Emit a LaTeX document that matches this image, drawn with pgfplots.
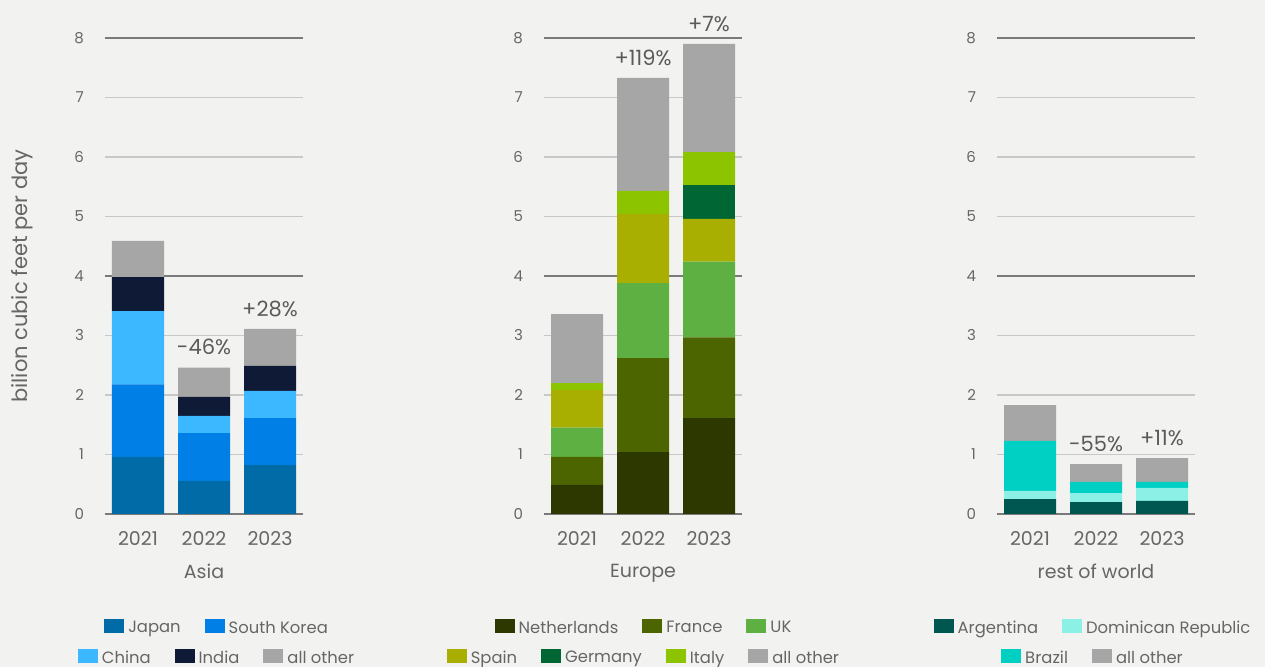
\documentclass[border=0pt]{standalone}
\usepackage{fontspec}
\setmainfont{Poppins}
\usepackage{pgfplots}
\pgfplotsset{compat=1.18}
\definecolor{bg}{HTML}{F2F3F0}
\definecolor{txt}{HTML}{666666}
\definecolor{ann}{HTML}{5A5A5A}
\definecolor{gridl}{HTML}{C8C8C8}
\definecolor{gridd}{HTML}{7A7A7A}
\definecolor{japan}{HTML}{006BA6}
\definecolor{skorea}{HTML}{0080E6}
\definecolor{china}{HTML}{3BB8FF}
\definecolor{india}{HTML}{0F1A36}
\definecolor{other}{HTML}{A6A6A6}
\definecolor{nl}{HTML}{2D3700}
\definecolor{fr}{HTML}{4D6500}
\definecolor{uk}{HTML}{5EB042}
\definecolor{es}{HTML}{A8AF00}
\definecolor{de}{HTML}{006633}
\definecolor{it}{HTML}{8DC400}
\definecolor{ar}{HTML}{005751}
\definecolor{dr}{HTML}{8CF0E6}
\definecolor{br}{HTML}{00CFC4}
\pgfplotsset{
  panel/.style={
    scale only axis, width=99pt, height=238pt,
    xmin=-0.5, xmax=2.5, ymin=0, ymax=8,
    ytick={0,1,...,8},
    xtick={0,1,2}, xticklabels={2021,2022,2023},
    /pgf/number format/assume math mode=true,
    axis x line*=bottom, axis y line*=left,
    y axis line style={draw=none},
    x axis line style={draw=gridd, line width=0.8pt},
    major tick length=0pt,
    ymajorgrids, grid style={draw=gridl, line width=0.6pt},
    extra y ticks={4,8}, extra y tick labels={},
    extra y tick style={grid style={draw=gridd, line width=0.7pt}},
    yticklabel style={font=\fontsize{7.5}{9}\selectfont, text=txt, xshift=-7pt},
    xticklabel style={font=\fontsize{9.5}{11}\selectfont, text=txt, yshift=-5pt},
    xlabel style={font=\fontsize{9.5}{11}\selectfont, text=txt, yshift=-2.5pt},
    ybar stacked, bar width=26pt,
    every axis plot/.append style={draw=none},
    legend image code/.code={\fill[##1] (0pt,-2pt) rectangle (10pt,5pt);},
    legend style={draw=none, fill=none, inner sep=0pt, anchor=center,
      font=\fontsize{8.2}{10}\selectfont, text=txt,
      /tikz/every even column/.append style={column sep=10pt}},
    legend cell align=left, legend columns=-1,
    clip=false,
  },
  hiddenleg/.style={
    scale only axis, width=99pt, height=238pt,
    xmin=0, xmax=1, ymin=0, ymax=1, hide axis,
    legend image code/.code={\fill[##1] (0pt,-2pt) rectangle (10pt,5pt);},
    legend style={draw=none, fill=none, inner sep=0pt, anchor=center,
      font=\fontsize{8.2}{10}\selectfont, text=txt,
      /tikz/every even column/.append style={column sep=10pt}},
    legend cell align=left, legend columns=-1,
  },
}
\begin{document}
\begin{tikzpicture}[x=1pt,y=1pt]
\fill[bg] (0,0) rectangle (632.5,333.5);
\path[use as bounding box] (0,0) rectangle (632.5,333.5);
% ---------------- Asia
\begin{axis}[panel, at={(52.5pt,76.5pt)}, anchor=south west,
  xlabel={Asia},
  ylabel={bilion cubic feet per day},
  ylabel style={font=\fontsize{10.5}{12}\selectfont, text=txt, yshift=14pt},
  legend style={at={(0.571,-0.241)}},
  legend entries={Japan, South Korea}]
\addplot[fill=japan] coordinates {(0,0.96) (1,0.555) (2,0.82)};
\addplot[fill=skorea] coordinates {(0,1.22) (1,0.805) (2,0.79)};
\addplot[fill=china] coordinates {(0,1.23) (1,0.29) (2,0.46)};
\addplot[fill=india] coordinates {(0,0.57) (1,0.32) (2,0.42)};
\addplot[fill=other] coordinates {(0,0.61) (1,0.49) (2,0.62)};
\node[text=ann, font=\fontsize{10.5}{12}\selectfont, anchor=south] at (axis cs:1,2.55) {-46\%};
\node[text=ann, font=\fontsize{10.5}{12}\selectfont, anchor=south] at (axis cs:2,3.2) {+28\%};
\end{axis}
\begin{axis}[hiddenleg, at={(52.5pt,76.5pt)}, anchor=south west,
  legend style={at={(0.571,-0.304)}},
  legend entries={China, India, all other}]
\addlegendimage{fill=china, draw=none}
\addlegendimage{fill=india, draw=none}
\addlegendimage{fill=other, draw=none}
\end{axis}
% ---------------- Europe
\begin{axis}[panel, at={(272pt,76.5pt)}, anchor=south west,
  xlabel={Europe},
  legend style={at={(0.51,-0.241)}},
  legend entries={Netherlands, France, UK}]
\addplot[fill=nl] coordinates {(0,0.49) (1,1.04) (2,1.61)};
\addplot[fill=fr] coordinates {(0,0.47) (1,1.58) (2,1.36)};
\addplot[fill=uk] coordinates {(0,0.49) (1,1.26) (2,1.27)};
\addplot[fill=es] coordinates {(0,0.63) (1,1.16) (2,0.72)};
\addplot[fill=de] coordinates {(0,0) (1,0) (2,0.57)};
\addplot[fill=it] coordinates {(0,0.12) (1,0.39) (2,0.55)};
\addplot[fill=other] coordinates {(0,1.16) (1,1.90) (2,1.82)};
\node[text=ann, font=\fontsize{10.5}{12}\selectfont, anchor=south] at (axis cs:1,7.42) {+119\%};
\node[text=ann, font=\fontsize{10.5}{12}\selectfont, anchor=south] at (axis cs:2,7.99) {+7\%};
\end{axis}
\begin{axis}[hiddenleg, at={(272pt,76.5pt)}, anchor=south west,
  legend style={at={(0.51,-0.304)}},
  legend entries={Spain, Germany, Italy, all other}]
\addlegendimage{fill=es, draw=none}
\addlegendimage{fill=de, draw=none}
\addlegendimage{fill=it, draw=none}
\addlegendimage{fill=other, draw=none}
\end{axis}
% ---------------- Rest of world
\begin{axis}[panel, at={(498.5pt,76.5pt)}, anchor=south west,
  xlabel={rest of world},
  legend style={at={(0.49,-0.241)}},
  legend entries={Argentina, Dominican Republic}]
\addplot[fill=ar] coordinates {(0,0.25) (1,0.20) (2,0.22)};
\addplot[fill=dr] coordinates {(0,0.14) (1,0.15) (2,0.22)};
\addplot[fill=br] coordinates {(0,0.84) (1,0.19) (2,0.10)};
\addplot[fill=other] coordinates {(0,0.60) (1,0.30) (2,0.40)};
\node[text=ann, font=\fontsize{10.5}{12}\selectfont, anchor=south] at (axis cs:1,0.93) {-55\%};
\node[text=ann, font=\fontsize{10.5}{12}\selectfont, anchor=south] at (axis cs:2,1.03) {+11\%};
\end{axis}
\begin{axis}[hiddenleg, at={(498.5pt,76.5pt)}, anchor=south west,
  legend style={at={(0.49,-0.304)}},
  legend entries={Brazil, all other}]
\addlegendimage{fill=br, draw=none}
\addlegendimage{fill=other, draw=none}
\end{axis}
\end{tikzpicture}
\end{document}
